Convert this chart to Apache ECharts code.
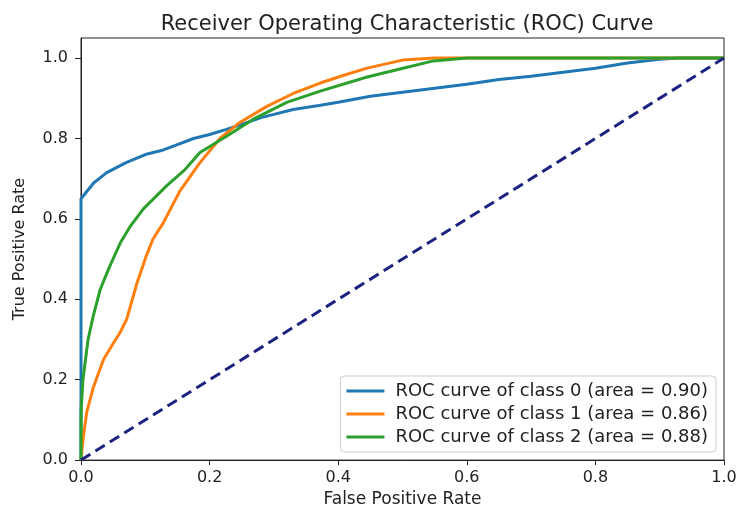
<!DOCTYPE html>
<html>
<head>
<meta charset="utf-8">
<script src="https://cdn.jsdelivr.net/npm/echarts@6/dist/echarts.min.js"></script>
<style>
  html, body { margin: 0; padding: 0; background: #fff; }
  #chart { width: 743px; height: 513px; }
</style>
</head>
<body>
<div id="chart"></div>
<script>
// ROC 曲线数据
const classNames = [
    'ROC curve of class 0 (area = 0.90)',
    'ROC curve of class 1 (area = 0.86)',
    'ROC curve of class 2 (area = 0.88)'
];
const classColors = ['#1f77b4', '#ff7f0e', '#2ca02c'];

const roc0 = [[0,0],[0,0.65],[0.005,0.66],[0.02,0.69],[0.04,0.715],[0.07,0.74],[0.1,0.76],
    [0.125,0.77],[0.15,0.785],[0.175,0.8],[0.2,0.81],[0.225,0.822],[0.25,0.835],[0.28,0.852],
    [0.3,0.86],[0.33,0.872],[0.37,0.882],[0.4,0.89],[0.45,0.905],[0.5,0.915],[0.55,0.925],
    [0.6,0.935],[0.65,0.947],[0.7,0.955],[0.75,0.965],[0.8,0.975],[0.85,0.988],[0.9,0.997],
    [0.93,1.0],[1,1]];
const roc1 = [[0,0],[0.003,0.05],[0.009,0.12],[0.019,0.18],[0.035,0.25],[0.05,0.29],[0.061,0.318],
    [0.071,0.35],[0.087,0.44],[0.102,0.51],[0.112,0.55],[0.128,0.59],[0.154,0.67],[0.185,0.74],
    [0.216,0.8],[0.247,0.84],[0.289,0.88],[0.33,0.912],[0.372,0.938],[0.41,0.958],[0.445,0.975],
    [0.5,0.995],[0.55,1.0],[1,1]];
const roc2 = [[0,0],[0,0.12],[0.003,0.2],[0.011,0.3],[0.019,0.358],[0.03,0.425],[0.045,0.483],
    [0.061,0.54],[0.076,0.58],[0.097,0.625],[0.133,0.682],[0.16,0.72],[0.185,0.765],[0.227,0.806],
    [0.268,0.848],[0.32,0.89],[0.372,0.918],[0.445,0.953],[0.496,0.973],[0.548,0.993],[0.6,1.0],[1,1]];
const chanceLine = [[0,0],[1,1]];
const tickValues = [0, 0.2, 0.4, 0.6, 0.8, 1.0];

const font = 'DejaVu Sans';
const chart = echarts.init(document.getElementById('chart'));

const rocData = [roc0, roc1, roc2];
const series = rocData.map(function(d, i) {
    return {
        name: classNames[i],
        type: 'line',
        data: d,
        symbol: 'none',
        lineStyle: { width: 3, color: classColors[i] },
        itemStyle: { color: classColors[i] },
        animation: false
    };
});
series.push({
    name: 'chance',
    type: 'line',
    data: chanceLine,
    symbol: 'none',
    lineStyle: { width: 3, color: '#1c2280', type: [11, 6] },
    animation: false
});

function axisCommon(name, nameGap, labelMargin, tickLen, nameSize) {
    return {
        type: 'value',
        min: 0,
        name: name,
        nameLocation: 'middle',
        nameGap: nameGap,
        nameTextStyle: { fontFamily: font, fontSize: nameSize, color: '#222' },
        axisLine: { show: true, onZero: false, lineStyle: { color: '#222', width: 1 } },
        axisTick: { show: true, length: tickLen, customValues: tickValues, lineStyle: { color: '#222' } },
        axisLabel: {
            customValues: tickValues,
            fontFamily: font, fontSize: 16, color: '#222', margin: labelMargin,
            formatter: function(v) { return v.toFixed(1); }
        },
        splitLine: { show: false }
    };
}

const xAxis = axisCommon('False Positive Rate', 27, 10, 5, 17);
xAxis.max = 1;
const yAxis = axisCommon('True Positive Rate', 53, 13, 6, 16);
yAxis.max = 1.05;

chart.setOption({
    backgroundColor: '#fff',
    title: {
        text: 'Receiver Operating Characteristic (ROC) Curve',
        left: 402,
        textAlign: 'center',
        top: 9,
        textStyle: { fontFamily: font, fontSize: 21, fontWeight: 'normal', color: '#222' }
    },
    grid: {
        left: 81, right: 19, top: 38, bottom: 52,
        show: true, borderColor: '#222', borderWidth: 1
    },
    legend: {
        data: classNames,
        orient: 'vertical',
        right: 27,
        bottom: 61,
        icon: 'rect',
        itemWidth: 38,
        itemHeight: 3,
        itemGap: 5,
        padding: [6, 8, 6, 6],
        borderColor: '#ccc',
        borderWidth: 1,
        borderRadius: 4,
        backgroundColor: 'rgba(255,255,255,0.8)',
        textStyle: { fontFamily: font, fontSize: 18, color: '#222', padding: [0, 0, 0, 6] }
    },
    xAxis: xAxis,
    yAxis: yAxis,
    series: series
});
</script>
</body>
</html>
